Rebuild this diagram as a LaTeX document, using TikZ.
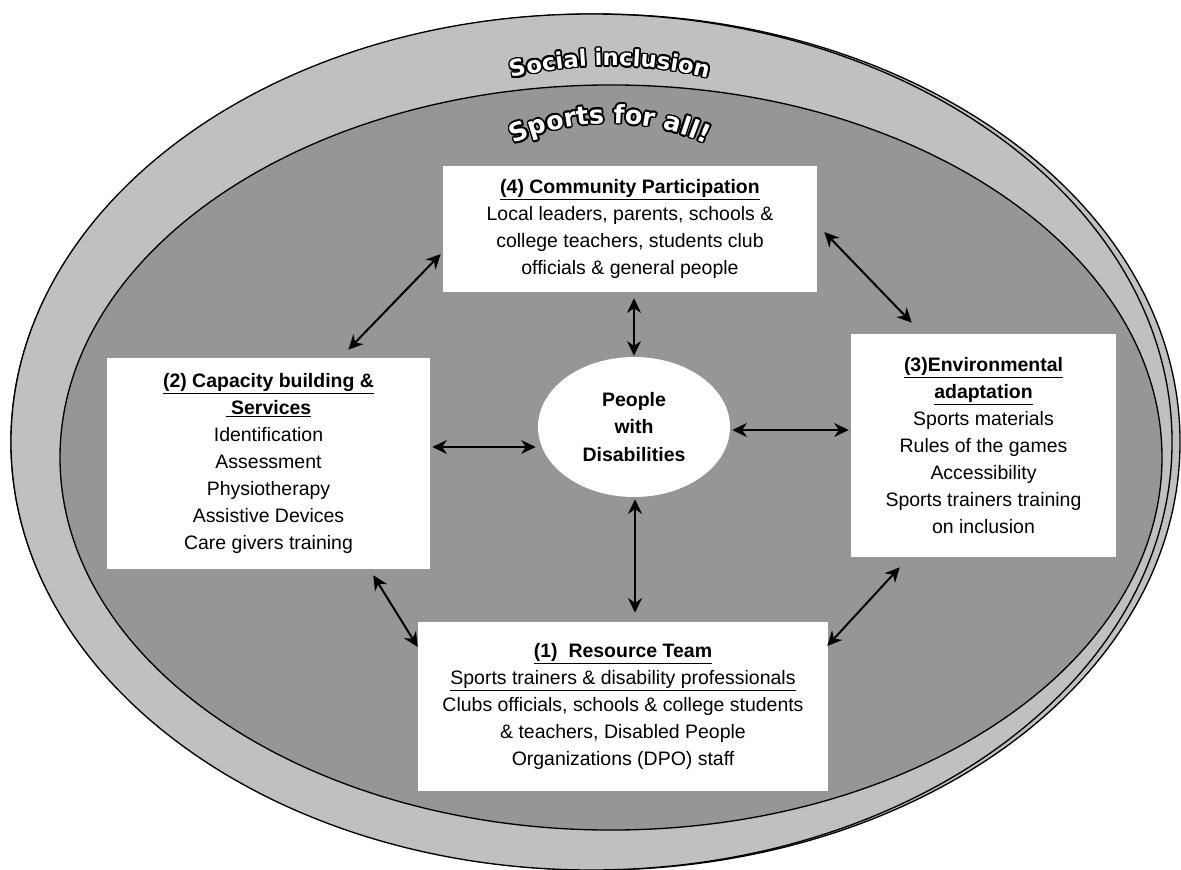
\documentclass[tikz,border=0pt]{standalone}
\usepackage{fontspec}
\setmainfont{Liberation Sans}
\newfontfamily\artfont{DejaVu Sans}
\usepackage{xcolor}
\usetikzlibrary{shapes,arrows.meta,positioning,decorations.text}

\definecolor{ringgray}{RGB}{192,192,192}
\definecolor{fieldgray}{RGB}{150,150,150}

\begin{document}
\begin{tikzpicture}[
    x=0.75pt, y=-0.75pt,
    box/.style={rectangle, fill=white, align=center, inner sep=0pt, font=\fontsize{14.6}{20.3}\selectfont},
    person/.style={ellipse, fill=white, align=center, inner sep=0pt, minimum width=144pt, minimum height=105pt, font=\bfseries\fontsize{14.6}{20.3}\selectfont},
    link/.style={line width=1.5pt, {Stealth[length=11pt,width=10.5pt]}-{Stealth[length=11pt,width=10.5pt]}},
    arttext/.style={decorate, decoration={text along path, text align=center, text color=#1}},
]
\useasboundingbox (0,0) rectangle (1181,870);

% Rings
\draw[fill=ringgray, line width=1pt] (595.5,442) ellipse [x radius=438.4pt, y radius=321pt];
\draw[fill=ringgray, line width=1pt] (591.5,442) ellipse [x radius=435.4pt, y radius=321pt];
\draw[fill=fieldgray, line width=1pt] (611,457.5) ellipse [x radius=413.25pt, y radius=279.4pt];

% Curved titles, black outline first
\foreach \a in {0,22.5,...,337.5} {
  \path[arttext=black, shift={(\a:1.7)}, decoration={text={|\artfont\bfseries\fontsize{17}{17}\selectfont|Social inclusion}}]
    (460,98) .. controls (540,55) and (680,55) .. (760,98);
  \path[arttext=black, shift={(\a:1.7)}, decoration={text={|\artfont\bfseries\fontsize{19}{19}\selectfont|Sports for all!}}]
    (470,172) .. controls (545,107) and (675,107) .. (750,172);
}
\path[arttext=white, decoration={text={|\artfont\bfseries\fontsize{17}{17}\selectfont|Social inclusion}}]
  (460,98) .. controls (540,55) and (680,55) .. (760,98);
\path[arttext=white, decoration={text={|\artfont\bfseries\fontsize{19}{19}\selectfont|Sports for all!}}]
  (470,172) .. controls (545,107) and (675,107) .. (750,172);

% Boxes and centre
\node[box, minimum width=280.5pt, minimum height=94.5pt] (comm) at (630,229)
  {\underline{\textbf{(4) Community Participation}}\\Local leaders, parents, schools \&\\college teachers, students club\\officials \& general people};
\node[box, minimum width=242.25pt, minimum height=158.25pt] (cap) at (268.5,463.5)
  {\underline{\textbf{(2) Capacity building \&}}\\\underline{\textbf{\ Services}}\\Identification\\Assessment\\Physiotherapy\\Assistive Devices\\Care givers training};
\node[box, minimum width=198.75pt, minimum height=167.25pt] (env) at (983.5,445.5)
  {\underline{\textbf{(3)Environmental}}\\\underline{\textbf{adaptation}}\\Sports materials\\Rules of the games\\Accessibility\\Sports trainers training\\on inclusion};
\node[box, minimum width=307.5pt, minimum height=126.75pt] (res) at (623,706.5)
  {\underline{\textbf{(1)\ \ Resource Team}}\\\underline{Sports trainers \& disability professionals}\\Clubs officials, schools \& college students\\\& teachers, Disabled People\\Organizations (DPO) staff};
\node[person] (pwd) at (634,427) {People\\with\\Disabilities};

% Links
\draw[link] ([shift={(-82,-8)}]cap.north east) -- ([shift={(-2,25)}]comm.west);
\draw[link] ([shift={(7,3)}]comm.east) -- ([shift={(61,-11)}]env.north west);
\draw[link] ([shift={(4,6)}]comm.south) -- ([shift={(0,-1)}]pwd.north);
\draw[link] ([shift={(2,-16.5)}]cap.east) -- ([shift={(-2,20)}]pwd.west);
\draw[link] ([shift={(2,3)}]pwd.east) -- ([shift={(-2,-15.5)}]env.west);
\draw[link] ([shift={(1,2)}]pwd.south) -- ([shift={(12,-9)}]res.north);
\draw[link] ([shift={(-57,6)}]cap.south east) -- ([shift={(0,-59.5)}]res.west);
\draw[link] ([shift={(49,10)}]env.south west) -- ([shift={(-1,-60.5)}]res.east);

\end{tikzpicture}
\end{document}
